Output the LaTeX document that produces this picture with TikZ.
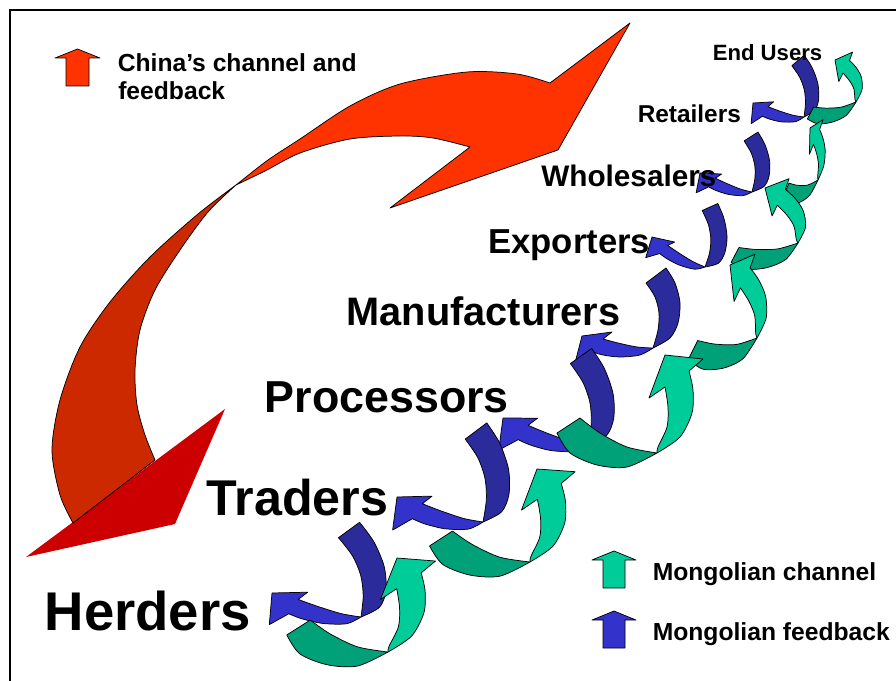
\documentclass[tikz,border=0pt]{standalone}
\usepackage{fontspec}
\setmainfont{Liberation Sans}
\definecolor{chinaBright}{HTML}{FF3300}
\definecolor{chinaDark}{HTML}{CC2900}
\definecolor{chinaHead}{HTML}{CC0000}
\definecolor{fbDark}{HTML}{2B2B9C}
\definecolor{fbLight}{HTML}{3333CC}
\definecolor{chDark}{HTML}{00A078}
\definecolor{chLight}{HTML}{00CC99}

\tikzset{
  outline/.style={draw=black, line width=0.55pt, line join=round},
  lbl/.style={inner sep=0pt, anchor=base west, font=\bfseries\fontsize{#1pt}{#1pt}\selectfont},
  % local basis of a curved arrow: origin at the fold point J,
  % x axis towards the middle of the tail end M, y axis towards the tip T
  arrowbasis/.style n args={6}{shift={(#1,#2)},
    x={({(#3-#1)*0.75pt},{(#2-#4)*0.75pt})},
    y={({(#5-#1)*0.75pt},{(#2-#6)*0.75pt})}},
}

% curved feedback arrow (blue), drawn in its local basis
\newcommand\feedbackarrow{%
  \filldraw[outline, fill=fbLight] (0,0)
    -- plot[smooth] coordinates {(0,0) (-0.0233,0.2244) (-0.0125,0.4924) (0.0075,0.7045)}
    -- (0.1242,0.5827) -- (0,1) -- (-0.3860,1.0823) -- (-0.1937,0.8369)
    -- plot[smooth] coordinates {(-0.1937,0.8369) (-0.2116,0.6953) (-0.1997,0.4564) (-0.1260,0.1778) (0,0)}
    -- cycle;
  \filldraw[outline, fill=fbDark] (0.874,0.1355) -- (1.1259,-0.1355)
    -- plot[smooth] coordinates {(1.1259,-0.1355) (0.9413,-0.2701) (0.6789,-0.3516) (0.4003,-0.3352) (0.1763,-0.2320) (0,0)}
    -- plot[smooth] coordinates {(0,0) (0.2581,-0.0595) (0.4933,-0.0637) (0.7032,0.0015) (0.874,0.1355)}
    -- cycle;
}

% curved channel arrow (green), drawn in its local basis
\newcommand\channelarrow{%
  \filldraw[outline, fill=chDark] (1.120,-0.1102)
    -- plot[smooth] coordinates {(1.120,-0.1102) (0.9587,-0.2690) (0.6504,-0.3050) (0.3180,-0.2321) (0,0)}
    -- plot[smooth] coordinates {(0,0) (0.3360,-0.0331) (0.6461,0.0228) (0.880,0.1102)}
    -- cycle;
  \filldraw[outline, fill=chLight] (0,0)
    -- plot[smooth] coordinates {(0,0) (-0.2391,0.2304) (-0.3497,0.5063) (-0.3400,0.7383) (-0.2789,0.9150)}
    -- (-0.4224,1.0777) -- (0,1) -- (0.1376,0.5226) -- (-0.0288,0.6816)
    -- plot[smooth] coordinates {(-0.0288,0.6816) (-0.0798,0.4918) (-0.0868,0.2897) (-0.0056,0.0628) (0,0)}
    -- cycle;
}

\begin{document}
\begin{tikzpicture}[x=0.75pt, y=-0.75pt]
\useasboundingbox (0,0) rectangle (896,681);

% frame
\draw[line width=1.1pt] (10,681) -- (10,10) -- (896,10);

% China's channel: big folded arrow
\fill[chinaHead] (26,557) -- (225,409) -- (175,524) -- cycle;
\filldraw[outline, fill=chinaDark] (236,185)
  -- plot[smooth] coordinates {(236,185) (198,214) (150,257) (110,302) (80,347) (60,400) (52,450) (60,495) (73,523)}
  -- (155,460)
  -- plot[smooth] coordinates {(155,460) (145,435) (137,405) (135,370) (140,330) (155,290) (180,250) (208,212) (236,185)}
  -- cycle;
\filldraw[outline, fill=chinaBright] (236,185)
  -- plot[smooth] coordinates {(236,185) (268,160) (300,139) (350,106) (400,84) (467,72) (517,74) (550,83)}
  -- (630,23) -- (558,150) -- (390,208) -- (470,147)
  -- plot[smooth] coordinates {(470,147) (433,138) (400,136) (350,139) (300,153) (265,171) (236,185)}
  -- cycle;

% Mongolian feedback arrows, top to bottom
\begin{scope}[arrowbasis={804}{117}{798}{60.5}{753}{103}] \feedbackarrow \end{scope}
\begin{scope}[arrowbasis={752}{192}{751}{136.5}{700}{173}] \feedbackarrow \end{scope}
\begin{scope}[arrowbasis={705}{267}{710}{207}{652}{237}] \feedbackarrow \end{scope}
\begin{scope}[arrowbasis={653}{348}{656}{275.5}{582}{336}] \feedbackarrow \end{scope}
\begin{scope}[arrowbasis={588}{445}{581}{356}{503}{418}] \feedbackarrow \end{scope}
\begin{scope}[arrowbasis={483}{522}{476}{431}{397}{497}] \feedbackarrow \end{scope}
\begin{scope}[arrowbasis={361}{617}{349}{530}{272}{593}] \feedbackarrow \end{scope}

% Mongolian channel arrows, top to bottom
\begin{scope}[arrowbasis={856}{102}{810.5}{113}{835}{60}] \channelarrow \end{scope}
\begin{scope}[arrowbasis={818}{180}{786}{190}{810}{128}] \channelarrow \end{scope}
\begin{scope}[arrowbasis={798}{243}{735}{255}{765}{188}] \channelarrow \end{scope}
\begin{scope}[arrowbasis={757}{338}{693}{350}{730}{265}] \channelarrow \end{scope}
\begin{scope}[arrowbasis={657}{453}{568.5}{425.5}{665}{355}] \channelarrow \end{scope}
\begin{scope}[arrowbasis={530}{562}{441}{538.5}{537}{469}] \channelarrow \end{scope}
\begin{scope}[arrowbasis={388}{652}{298.5}{627.5}{397}{558}] \channelarrow \end{scope}

% legend symbols
\filldraw[outline, fill=chinaBright] (66,86) -- (66,58) -- (55,58) -- (77.5,49) -- (100,58) -- (89,58) -- (89,86) -- cycle;
\filldraw[outline, fill=chLight] (603,588) -- (603,560) -- (592,560) -- (614,551) -- (636,560) -- (625,560) -- (625,588) -- cycle;
\filldraw[outline, fill=fbLight] (603,648) -- (603,620) -- (592,620) -- (614,611) -- (636,620) -- (625,620) -- (625,648) -- cycle;

% legend texts
\node[lbl=18.5] (china1) at (117.5,72) {China’s channel and};
\node[lbl=18.5] (china2) at (118,100) {feedback};
\node[lbl=18.5] (mchan) at (652.5,580) {Mongolian channel};
\node[lbl=18.5] (mfeed) at (652.5,640) {Mongolian feedback};

% stages of the chain
\node[lbl=40.9] (herders) at (44.5,630) {Herders};
\node[lbl=37.7] (traders) at (206.5,515) {Traders};
\node[lbl=33.6] (processors) at (264.5,412) {Processors};
\node[lbl=29.8] (manufacturers) at (346.5,325) {Manufacturers};
\node[lbl=26] (exporters) at (488,253) {Exporters};
\node[lbl=22.3] (wholesalers) at (541,187) {Wholesalers};
\node[lbl=18.3] (retailers) at (637.5,123) {Retailers};
\node[lbl=16.6] (endusers) at (712.5,61) {End Users};
\end{tikzpicture}
\end{document}
